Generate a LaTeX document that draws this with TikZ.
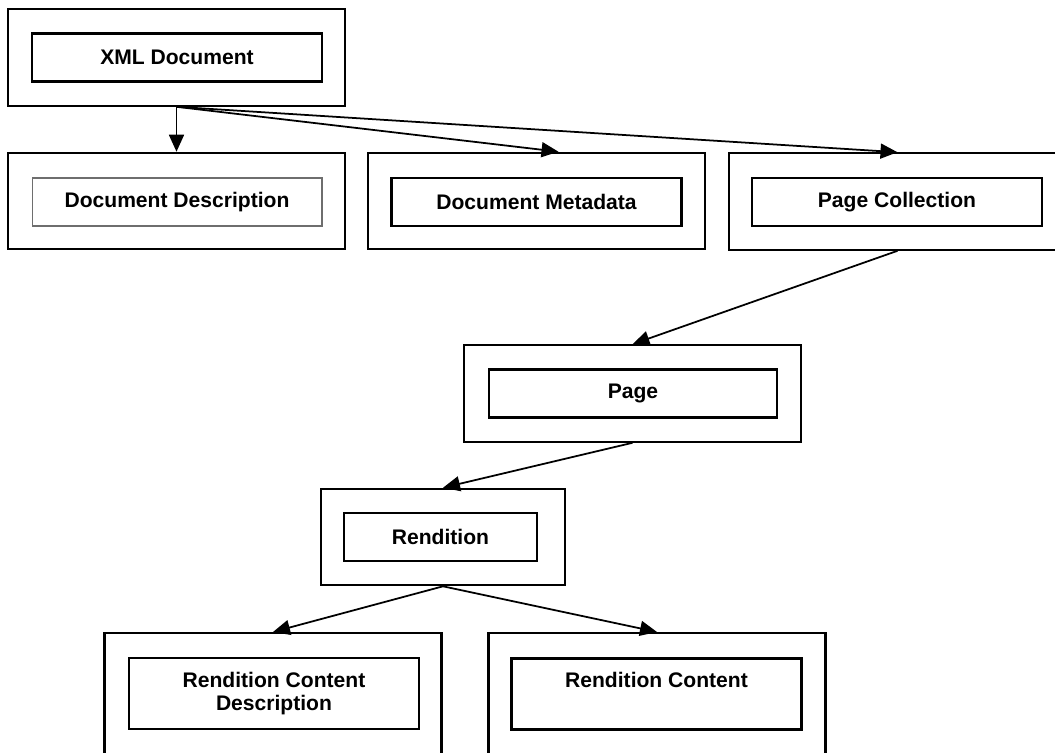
\documentclass[tikz,border=0pt]{standalone}
\usepackage{fontspec}
\setmainfont{Liberation Sans}
\usetikzlibrary{arrows.meta}

\begin{document}
\begin{tikzpicture}[x=0.02cm,y=-0.02cm,
    outerbox/.style={draw, line width=1.2pt, minimum width=6.74cm, minimum height=1.93cm, inner sep=0pt},
    innerbox/.style={draw, line width=1.2pt, minimum width=5.8cm, minimum height=0.96cm, inner sep=0pt, align=center, font=\fontsize{12}{13.5}\selectfont\bfseries},
    link/.style={-{Triangle[length=0.34cm,width=0.3cm]}, line width=1pt}]
    \definecolor{mygrey}{RGB}{110,110,110}

    \useasboundingbox (0,0) rectangle (1055,752);
    \clip (0,0) rectangle (1055,752);

    % top
    \node[outerbox] (xmlOuter) at (176.5,57.5) {};
    \node[innerbox] (xml) at (177,57.5) {XML Document};

    % second row
    \node[outerbox] (descOuter) at (176.5,201) {};
    \node[innerbox, draw=mygrey, line width=0.6pt] (desc) at (177,202) {Document Description};
    \node[outerbox] (metaOuter) at (536.5,201) {};
    \node[innerbox] (meta) at (536.5,202) {Document Metadata};
    \node[outerbox] (collOuter) at (897.5,201.5) {};
    \node[innerbox] (coll) at (897,202) {Page Collection};

    % page
    \node[outerbox] (pageOuter) at (632.5,393.5) {};
    \node[innerbox, minimum width=5.76cm] (page) at (633,393.5) {Page};

    % rendition
    \node[outerbox, minimum width=4.88cm] (rendOuter) at (443,537) {};
    \node[innerbox, minimum width=3.86cm] (rend) at (440.5,537) {Rendition};

    % bottom row, cut by the page edge
    \node[outerbox, minimum height=2.88cm] (rcdOuter) at (273,705) {};
    \node[innerbox, minimum height=1.42cm] (rcd) at (274,693.5) {Rendition Content\\Description};
    \node[outerbox, minimum height=2.88cm] (rcOuter) at (657,705) {};
    \node[innerbox, minimum height=1.42cm] (rc) at (656.5,694) {Rendition Content\\\phantom{Description}};

    % links
    \draw[link] (xmlOuter.south) -- (descOuter.north);
    \draw[link] (xmlOuter.south) -- ([xshift=0.44cm]metaOuter.north);
    \draw[link] (xmlOuter.south) -- (collOuter.north);
    \draw[link] (collOuter.south) -- (pageOuter.north);
    \draw[link] (pageOuter.south) -- (rendOuter.north);
    \draw[link] (rendOuter.south) -- (rcdOuter.north);
    \draw[link] (rendOuter.south) -- (rcOuter.north);
\end{tikzpicture}
\end{document}
